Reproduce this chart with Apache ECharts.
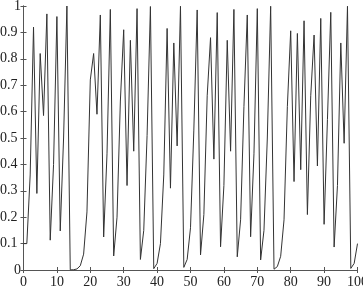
<!DOCTYPE html>
<html>
<head>
<meta charset="utf-8">
<script src="https://cdn.jsdelivr.net/npm/echarts@6/dist/echarts.min.js"></script>
<style>
html,body{margin:0;padding:0;background:#fff;}
#chart{width:363px;height:295px;}
</style>
</head>
<body>
<div id="chart"></div>
<script>
// Series values (index 0..100)
const seriesValues = [
  0.1, 0.1, 0.36, 0.92, 0.29, 0.82, 0.585, 0.97, 0.113, 0.40,
  0.96, 0.148, 0.50, 1.0, 0.0005, 0.001, 0.004, 0.016, 0.06, 0.22,
  0.72, 0.82, 0.59, 0.966, 0.125, 0.44, 0.987, 0.053, 0.20, 0.64,
  0.91, 0.32, 0.87, 0.45, 0.99, 0.04, 0.15, 0.51, 0.998, 0.005,
  0.025, 0.10, 0.36, 0.915, 0.31, 0.86, 0.47, 0.999, 0.01, 0.04,
  0.16, 0.53, 0.985, 0.057, 0.21, 0.66, 0.88, 0.42, 0.975, 0.088,
  0.32, 0.87, 0.45, 0.987, 0.05, 0.19, 0.62, 0.966, 0.126, 0.44,
  0.99, 0.038, 0.15, 0.50, 0.999, 0.003, 0.013, 0.052, 0.19, 0.62,
  0.906, 0.335, 0.896, 0.38, 0.944, 0.21, 0.66, 0.89, 0.394, 0.953,
  0.173, 0.57, 0.976, 0.087, 0.32, 0.86, 0.48, 0.999, 0.006, 0.025,
  0.1
];
const xTicks = [0, 10, 20, 30, 40, 50, 60, 70, 80, 90, 100];
const yTicks = [0, 0.1, 0.2, 0.3, 0.4, 0.5, 0.6, 0.7, 0.8, 0.9, 1];

const points = seriesValues.map((v, i) => [i, v]);

const chart = echarts.init(document.getElementById('chart'), null, {renderer: 'canvas'});
const axisColor = '#555';
const font = "'Liberation Serif', 'Times New Roman', serif";
const baseX = {
  type: 'value',
  min: xTicks[0], max: xTicks[xTicks.length - 1], interval: 10,
  splitLine: {show: false},
  axisLine: {show: true, lineStyle: {color: axisColor, width: 1}},
  axisTick: {show: true, inside: true, length: 3, lineStyle: {color: axisColor}}
};
const baseY = {
  type: 'value',
  min: yTicks[0], max: yTicks[yTicks.length - 1], interval: 0.1,
  splitLine: {show: false},
  axisLine: {show: true, lineStyle: {color: axisColor, width: 1}},
  axisTick: {show: true, inside: true, length: 3, lineStyle: {color: axisColor}}
};
chart.setOption({
  animation: false,
  backgroundColor: '#fff',
  grid: {left: 23.5, right: 5.5, top: 6, bottom: 25, containLabel: false, outerBoundsMode: 'none'},
  xAxis: [
    Object.assign({}, baseX, {position: 'bottom',
      axisLabel: {show: true, color: '#222', fontFamily: font, fontSize: 14, margin: 5,
        alignMinLabel: 'center', alignMaxLabel: 'center', hideOverlap: false}}),
    Object.assign({}, baseX, {position: 'top', axisLabel: {show: false}})
  ],
  yAxis: [
    Object.assign({}, baseY, {position: 'left',
      axisLabel: {show: true, color: '#222', fontFamily: font, fontSize: 14, margin: 6,
        alignMinLabel: 'middle', alignMaxLabel: 'middle', hideOverlap: false}}),
    Object.assign({}, baseY, {position: 'right', axisLabel: {show: false}})
  ],
  series: [{
    type: 'line',
    data: points,
    xAxisIndex: 0, yAxisIndex: 0,
    showSymbol: false,
    symbol: 'none',
    lineStyle: {color: '#333', width: 1},
    clip: true
  }]
});
</script>
</body>
</html>
